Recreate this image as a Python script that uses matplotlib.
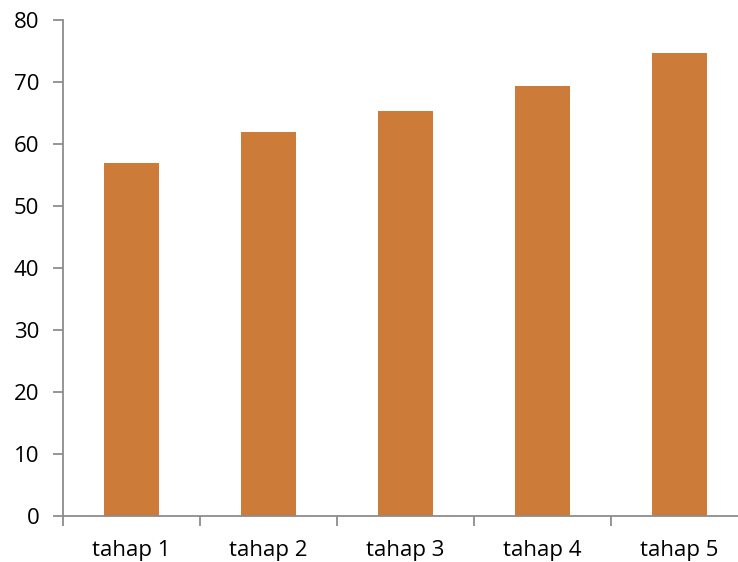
import numpy as np
import matplotlib.pyplot as plt

categories = ["tahap 1", "tahap 2", "tahap 3", "tahap 4", "tahap 5"]
values = [57.0, 62.0, 65.3, 69.3, 74.6]
y_ticks = [0, 10, 20, 30, 40, 50, 60, 70, 80]

BAR_COLOR = "#CD7B39"
AXIS_COLOR = "#8C8C8C"

plt.rcParams["font.family"] = ["Open Sans", "DejaVu Sans"]

fig = plt.figure(figsize=(7.38, 5.62), dpi=100)
ax = fig.add_axes([63 / 738, 1 - 516 / 562, 685 / 738, 496 / 562])

x = np.arange(len(categories))
ax.bar(x, values, width=0.4, color=BAR_COLOR, zorder=2)

ax.set_xlim(-0.5, len(categories) - 0.5)
ax.set_ylim(0, 80)
ax.set_yticks(y_ticks)

# category labels centred under bars, tick marks on the boundaries
ax.set_xticks(x)
ax.set_xticklabels(categories, fontsize=16)
ax.set_xticks(np.arange(len(categories) + 1) - 0.5, minor=True)
ax.tick_params(axis="x", which="major", length=0, pad=17)
ax.tick_params(axis="x", which="minor", length=7, width=1.3,
               color=AXIS_COLOR, direction="out")
ax.tick_params(axis="y", length=7, width=1.3, color=AXIS_COLOR,
               labelsize=16, pad=10)

for side in ["top", "right"]:
    ax.spines[side].set_visible(False)
for side in ["left", "bottom"]:
    ax.spines[side].set_color(AXIS_COLOR)
    ax.spines[side].set_linewidth(1.3)

fig.savefig("out.png", dpi=100)
